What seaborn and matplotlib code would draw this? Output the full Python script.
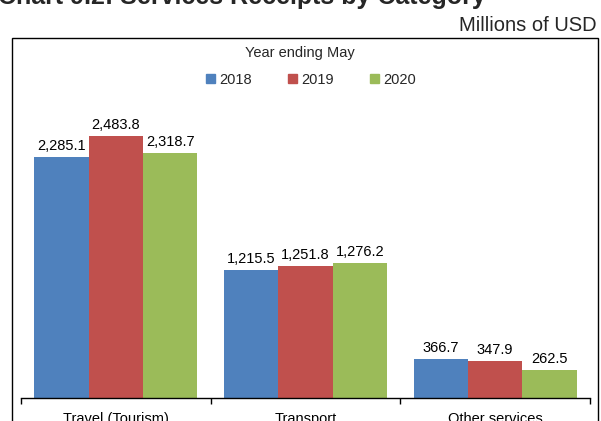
import pandas as pd
import matplotlib.pyplot as plt
import matplotlib.patches as mpatches
import seaborn as sns

# Dati (milioni di USD, anno che termina a maggio)
categories = ["Travel (Tourism)", "Transport", "Other services"]
years = ["2018", "2019", "2020"]
values_2018 = [2285.1, 1215.5, 366.7]
values_2019 = [2483.8, 1251.8, 347.9]
values_2020 = [2318.7, 1276.2, 262.5]
colors = ["#4F81BD", "#C0504D", "#9BBB59"]

df = pd.DataFrame({
    "category": categories * 3,
    "year": [y for y in years for _ in categories],
    "value": values_2018 + values_2019 + values_2020,
})

sns.set_theme(style="white")
plt.rcParams['font.family'] = ['Liberation Sans', 'DejaVu Sans']

W, H = 601, 421
fig = plt.figure(figsize=(W / 100, H / 100), dpi=100)
ax = fig.add_axes([21 / W, 23 / H, 569 / W, 316.6 / H])

sns.barplot(data=df, x="category", y="value", hue="year", order=categories,
            hue_order=years, palette=colors, width=0.86, gap=0,
            linewidth=0, saturation=1, ax=ax, legend=False)

ax.set_ylim(0, 3000)
ax.set_xlim(-0.5, 2.5)
ax.set_xlabel("")
ax.set_ylabel("")
ax.set_yticks([])
for s in ["top", "left", "right"]:
    ax.spines[s].set_visible(False)
ax.spines["bottom"].set_color("black")
ax.spines["bottom"].set_linewidth(1)

# tacche tra le categorie
ax.set_xticks([-0.5, 0.5, 1.5, 2.5], minor=True)
ax.tick_params(axis="x", which="minor", direction="out", length=4, width=1, color="black", bottom=True)
ax.tick_params(axis="x", which="major", length=0, labelsize=10.5, labelcolor="black", pad=10)

# etichette dei valori
for cont in ax.containers:
    ax.bar_label(cont, labels=[f"{v:,.1f}" for v in cont.datavalues], padding=3,
                 fontsize=10.5, color="black")

# cornice esterna
frame = mpatches.Rectangle((12 / W, -0.2), (598 - 12) / W, 1.2 - 38 / H,
                           transform=fig.transFigure, fill=False,
                           edgecolor="black", linewidth=1, clip_on=False)
fig.patches.append(frame)

fig.text(-2 / W, 1 - 4 / H, "Chart 9.2: Services Receipts by Category",
         fontsize=18, fontweight="bold", ha="left", va="baseline")
fig.text(597 / W, 1 - 31 / H, "Millions of USD", fontsize=14.5, ha="right", va="baseline")
fig.text(300 / W, 1 - 53 / H, "Year ending May", fontsize=10.5, ha="center", va="center")

handles = [mpatches.Patch(color=c, label=y) for c, y in zip(colors, years)]
fig.legend(handles=handles, loc="center", bbox_to_anchor=(311 / W, 1 - 80 / H),
           ncol=3, frameon=False, fontsize=10.5, handlelength=0.6, handleheight=0.6,
           handletextpad=0.3, columnspacing=2.5)

fig.savefig("out.png", dpi=100)
